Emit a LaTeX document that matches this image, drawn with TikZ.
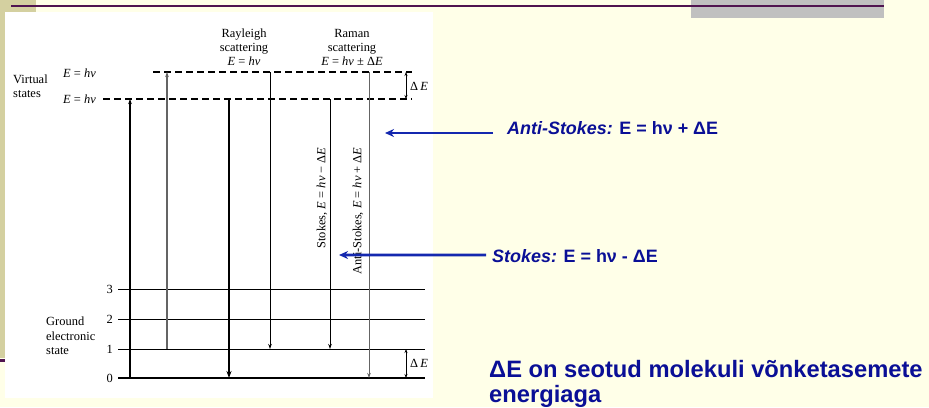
\documentclass[tikz,border=0pt]{standalone}
\usepackage{fontspec}
\setmainfont{Liberation Serif}
\newfontfamily\arial{Liberation Sans}
\usetikzlibrary{arrows.meta}
\definecolor{cream}{RGB}{255,255,232}
\definecolor{beige}{RGB}{212,208,160}
\definecolor{plum}{RGB}{80,20,80}
\definecolor{slidegray}{RGB}{192,192,192}
\definecolor{navy}{RGB}{10,15,150}
\definecolor{arrowblue}{RGB}{20,40,175}
\definecolor{midgray}{RGB}{100,100,100}
\tikzset{
  lvl/.style={line width=1bp, black},
  virt/.style={dash pattern=on 7bp off 4bp, line width=1.1bp},
  tr/.style={-{Stealth[length=5bp,width=3.5bp]}},
  dbl/.style={{Stealth[length=4bp,width=3bp]}-{Stealth[length=4bp,width=3bp]}, line width=0.8bp},
  lab/.style={font=\fontsize{12.5}{14}\selectfont, inner sep=0, anchor=base},
  blab/.style={font=\arial\bfseries\fontsize{18}{21}\selectfont, text=navy, inner sep=0, anchor=base west},
  bigblab/.style={blab, font=\arial\bfseries\fontsize{23.8}{26}\selectfont},
  barrow/.style={-{Stealth[length=9bp,width=8bp]}, line width=2.6bp, arrowblue},
}
\begin{document}
\begin{tikzpicture}[x=1bp,y=-1bp]
\useasboundingbox (0,0) rectangle (929,407);
% slide background
\fill[cream] (0,0) rectangle (929,407);
\fill[beige] (0,0) rectangle (36,358);
\fill[slidegray] (691,0) rectangle (884,18);
\draw[plum, line width=2.5bp] (11,6) -- (884,6);
\draw[plum, line width=3bp] (0,360) -- (36,360);
\fill[white] (5,12) rectangle (433,398);

% level coordinates
\coordinate (L0a) at (118,378); \coordinate (L0b) at (425,378);
\coordinate (L1a) at (118,349); \coordinate (L1b) at (425,349);
\coordinate (L2a) at (118,319); \coordinate (L2b) at (425,319);
\coordinate (L3a) at (118,289); \coordinate (L3b) at (425,289);
\coordinate (V1a) at (103,99); \coordinate (V1b) at (412,99);
\coordinate (V2a) at (153,72); \coordinate (V2b) at (412,72);
% columns
\coordinate (c1) at (130,0);
\coordinate (c2) at (167,0);
\coordinate (c3) at (229,0);
\coordinate (c4) at (270,0);
\coordinate (c5) at (330,0);
\coordinate (c6) at (369,0);
\coordinate (c7) at (406,0);

% levels
\draw[lvl, line width=1.5bp] (L0a) -- (L0b);
\draw[lvl] (L1a) -- (L1b);
\draw[lvl] (L2a) -- (L2b);
\draw[lvl] (L3a) -- (L3b);
\draw[virt] (V1a) -- (V1b);
\draw[virt] (V2a) -- (V2b);

% transitions
\draw[tr, line width=1.5bp] (c1 |- L0a) -- (c1 |- V1a);
\draw[tr, line width=1.1bp, midgray] (c2 |- L1a) -- (c2 |- V2a);
\draw[-{Stealth[length=7bp,width=5bp]}, line width=2.2bp] (c3 |- V1a) -- (c3 |- L0a);
\draw[tr, line width=1bp] (c4 |- V2a) -- (c4 |- L1a);
\draw[tr, line width=1bp] (c5 |- V1a) -- (c5 |- L1a);
\draw[tr, line width=1bp, midgray] (c6 |- V2a) -- (c6 |- L0a);
\draw[dbl] (c7 |- V2a) -- (c7 |- V1a);
\draw[dbl] (c7 |- L1a) -- (c7 |- L0a);

% labels
\node[lab, anchor=base west] (vs1) at (13,83) {Virtual};
\node[lab, anchor=base west] (vs2) at (13,97) {states};
\node[lab, anchor=base west] (eh1) at (63,77) {\textit{E} = \textit{hν}};
\node[lab, anchor=base west] (eh2) at (63,103) {\textit{E} = \textit{hν}};
\node[lab] (ry1) at (244,37) {Rayleigh};
\node[lab] (ry2) at (244,51) {scattering};
\node[lab] (ry3) at (244,65) {\textit{E} = \textit{hν}};
\node[lab] (rm1) at (352,37) {Raman};
\node[lab] (rm2) at (352,51) {scattering};
\node[lab] (rm3) at (352,65) {\textit{E} = \textit{hν} ± Δ\textit{E}};
\node[lab, anchor=base west] (de1) at (410,90) {Δ\,\textit{E}};
\node[lab, anchor=base west] (de2) at (410,367) {Δ\,\textit{E}};
\node[lab, anchor=base west] (gr1) at (46,325) {Ground};
\node[lab, anchor=base west] (gr2) at (46,340) {electronic};
\node[lab, anchor=base west] (gr3) at (46,354) {state};
\node[lab, anchor=base east] (n3) at (113,293) {3};
\node[lab, anchor=base east] (n2) at (113,323) {2};
\node[lab, anchor=base east] (n1) at (113,353) {1};
\node[lab, anchor=base east] (n0) at (113,382) {0};
\node[lab, anchor=center, rotate=90] (stk) at (322,198) {Stokes, \textit{E} = \textit{hν} − Δ\textit{E}};
\node[lab, anchor=center, rotate=90] (astk) at (358,211) {Anti-Stokes, \textit{E} = \textit{hν} + Δ\textit{E}};

% blue annotations
\node[blab] (ast) at (507,134) {\textit{Anti-Stokes:} E = hν + ΔE};
\node[blab] (st) at (492,262) {\textit{Stokes:} E = hν - ΔE};
\coordinate (asth) at (385,133);
\coordinate (sth) at (339,255);
\draw[barrow] ([xshift=-14bp, yshift=1bp]ast.base west) -- (asth);
\draw[barrow] ([xshift=-6bp, yshift=7bp]st.base west) -- (sth);
\node[bigblab] (dl1) at (489,377) {ΔE on seotud molekuli võnketasemete};
\node[bigblab] (dl2) at (489,402) {energiaga};
\end{tikzpicture}
\end{document}
